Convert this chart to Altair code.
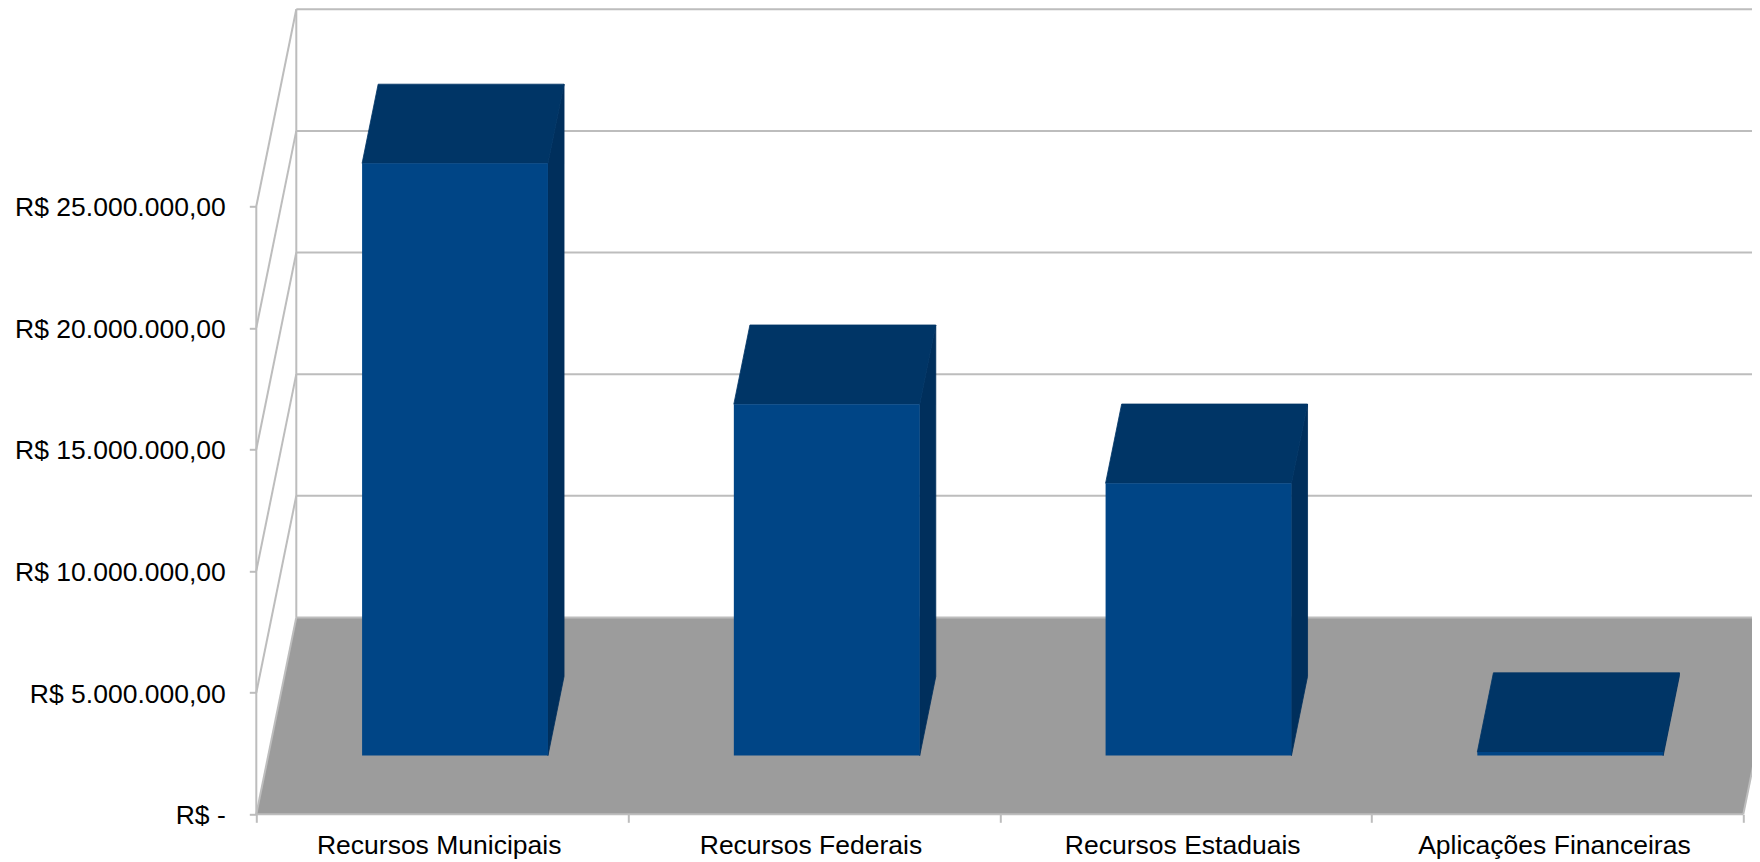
import altair as alt
import pandas as pd

CATEGORIES = ["Recursos Municipais", "Recursos Federais", "Recursos Estaduais", "Aplicações Financeiras"]
VALUES = [24350000, 14450000, 11200000, 150000]
TICK_VALUES = [0, 5000000, 10000000, 15000000, 20000000, 25000000]
CAT_TICKS = [0, 1, 2, 3, 4]

# oblique projection: depth 0 = front of the floor, depth 1 = back wall
DEPTH_X = 0.1076        # category units per full depth
DEPTH_Y = 8095000       # value units per full depth
N = len(CATEGORIES)
X_END = 4.0234          # where the visible plot stops (the back wall runs past the page edge)
BAR_L, BAR_R = 0.2525, 0.7525
BAR_D0, BAR_D1 = 0.298, 0.70
FONT = "Liberation Sans"
GRID = "#bdbdbd"

def px(c, d):
    return c + d * DEPTH_X

def py(v, d):
    return v + d * DEPTH_Y

x_scale = alt.Scale(domain=[0, X_END], nice=False, zero=False)
y_scale = alt.Scale(domain=[0, TICK_VALUES[-1] + DEPTH_Y], nice=False, zero=False)

X = lambda f="x", **k: alt.X(f"{f}:Q", scale=x_scale, axis=None, **k)
Y = lambda f="y", **k: alt.Y(f"{f}:Q", scale=y_scale, axis=None, **k)
X2 = alt.X2("x2:Q")
Y2 = alt.Y2("y2:Q")

# floor
floor = pd.DataFrame([
    {"y": py(0, 0), "x": px(0, 0), "x2": px(N, 0)},
    {"y": py(0, 1), "x": px(0, 1), "x2": px(N, 1)},
])
floor_layer = alt.Chart(floor).mark_area(orient="horizontal", color="#9c9c9c", opacity=1).encode(
    y=Y(), x=X(), x2=X2)

# walls and grid
segs = []
for v in TICK_VALUES:
    segs.append({"x": px(0, 1), "x2": px(N, 1), "y": py(v, 1), "y2": py(v, 1)})
    segs.append({"x": px(0, 0), "x2": px(0, 1), "y": py(v, 0), "y2": py(v, 1)})
segs.append({"x": px(0, 1), "x2": px(0, 1), "y": py(0, 1), "y2": py(TICK_VALUES[-1], 1)})
segs.append({"x": px(0, 0), "x2": px(0, 0), "y": py(0, 0), "y2": py(TICK_VALUES[-1], 0)})
segs.append({"x": px(0, 0), "x2": px(N, 0), "y": py(0, 0), "y2": py(0, 0)})
segs.append({"x": px(N, 0), "x2": px(N, 1), "y": py(0, 0), "y2": py(0, 1)})
grid_layer = alt.Chart(pd.DataFrame(segs)).mark_rule(color=GRID, strokeWidth=2).encode(
    x=X(), x2=X2, y=Y(), y2=Y2)

# bars
front, side, top = [], [], []
for i, v in enumerate(VALUES):
    l, r = i + BAR_L, i + BAR_R
    front.append({"x": px(l, BAR_D0), "x2": px(r, BAR_D0), "y": py(0, BAR_D0), "y2": py(v, BAR_D0)})
    for d in (BAR_D0, BAR_D1):
        side.append({"c": i, "x": px(r, d), "y": py(0, d), "y2": py(v, d)})
        top.append({"c": i, "y": py(v, d), "x": px(l, d), "x2": px(r, d)})

side_layer = alt.Chart(pd.DataFrame(side)).mark_area(
    color="#002f5c", opacity=1, stroke="#002f5c", strokeWidth=0.8).encode(
    x=X(), y=Y(), y2=Y2, detail="c:N")
top_layer = alt.Chart(pd.DataFrame(top)).mark_area(
    orient="horizontal", color="#003566", opacity=1, stroke="#003566", strokeWidth=0.8).encode(
    y=Y(), x=X(), x2=X2, detail="c:N")
front_layer = alt.Chart(pd.DataFrame(front)).mark_rect(color="#004586").encode(
    x=X(), x2=X2, y=Y(), y2=Y2)

# axes
y_axis = alt.Axis(
    values=TICK_VALUES, title=None, orient="left", domain=False, grid=False, ticks=True, tickSize=7,
    tickColor=GRID, tickWidth=2, labelFont=FONT, labelFontSize=26.5, labelColor="#000000",
    labelPadding=24, labelOffset=1.5, labelLimit=400,
    labelExpr="datum.value == 0 ? 'R$ -' : 'R$ ' + replace(format(datum.value, ',.0f'), /,/g, '.') + ',00'",
)
y_axis_layer = alt.Chart(pd.DataFrame({"v": TICK_VALUES})).mark_point(opacity=0).encode(
    y=alt.Y("v:Q", scale=y_scale, axis=y_axis))

tick_axis = alt.Axis(
    values=CAT_TICKS, title=None, orient="bottom", domain=False, grid=False, tickSize=8,
    tickColor=GRID, tickWidth=2, labels=False)
tick_layer = alt.Chart(pd.DataFrame({"t": CAT_TICKS})).mark_point(opacity=0).encode(
    x=alt.X("t:Q", scale=x_scale, axis=tick_axis))

label_pos = [i + 0.5 for i in range(N)]
names = "[" + ",".join(f"'{c}'" for c in CATEGORIES) + "]"
label_axis = alt.Axis(
    values=label_pos, title=None, orient="bottom", domain=False, grid=False, ticks=False,
    tickSize=0, labelFont=FONT, labelFontSize=26.5, labelColor="#000000", labelPadding=18,
    labelOffset=-3.5, labelOverlap=False, labelBound=False, labelFlush=False, labelLimit=400,
    labelExpr=f"{names}[floor(datum.value)]")
label_layer = alt.Chart(pd.DataFrame({"p": label_pos})).mark_point(opacity=0).encode(
    x=alt.X("p:Q", scale=x_scale, axis=label_axis))

chart = alt.layer(
    tick_layer, label_layer, y_axis_layer, floor_layer, grid_layer, side_layer, top_layer, front_layer
).resolve_axis(x="independent", y="independent").properties(
    width=1495.7, height=805,
    autosize="none",
    padding={"left": 248.3, "top": 1.3, "right": 0, "bottom": 47.7},
    background="#ffffff",
).configure_view(stroke=None)

chart.save("out.html", embed_options={"renderer": "svg", "actions": False})
